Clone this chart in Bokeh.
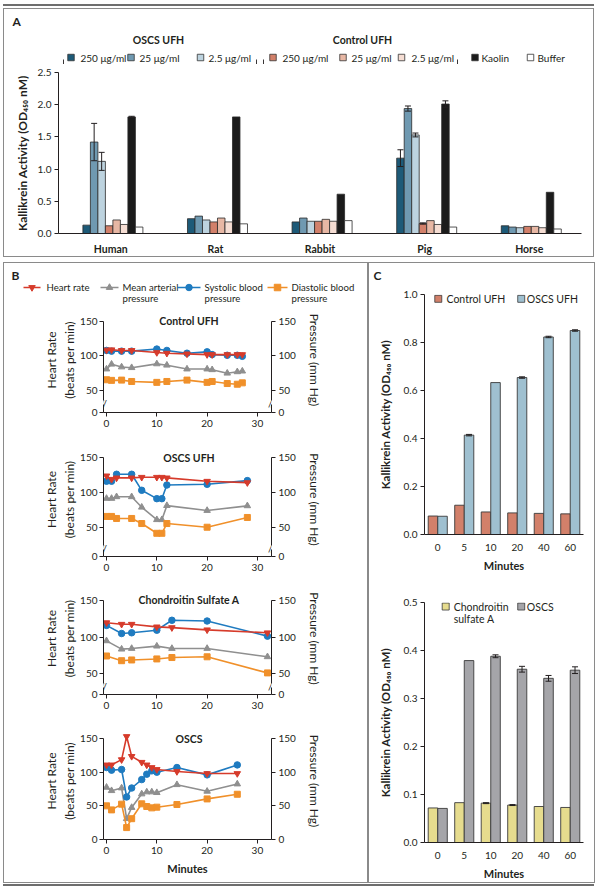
from bokeh.plotting import figure
from bokeh.layouts import column, row
from bokeh.models import (Range1d, FactorRange, FixedTicker, LinearAxis, Label, Whisker,
                          TeeHead, ColumnDataSource, Div, Spacer, NumeralTickFormatter)
from bokeh.transform import dodge
from bokeh.core.properties import value
from bokeh.embed import file_html
from bokeh.resources import INLINE

FONT = "Lato"
INK = "#231f20"
FRAME = "#8a8a8a"

# ---------------- Panel A data ----------------
species = ["Human", "Rat", "Rabbit", "Pig", "Horse"]
a_labels = ["250 μg/ml", "25 μg/ml", "2.5 μg/ml", "250 μg/ml", "25 μg/ml", "2.5 μg/ml", "Kaolin", "Buffer"]
oscs_250 = [0.13, 0.23, 0.18, 1.17, 0.12]
oscs_25 = [1.42, 0.27, 0.24, 1.94, 0.10]
oscs_2_5 = [1.12, 0.21, 0.19, 1.53, 0.09]
ctrl_250 = [0.12, 0.18, 0.19, 0.155, 0.11]
ctrl_25 = [0.21, 0.24, 0.22, 0.20, 0.11]
ctrl_2_5 = [0.14, 0.18, 0.19, 0.14, 0.09]
kaolin = [1.81, 1.81, 0.61, 2.01, 0.64]
buffer = [0.10, 0.15, 0.20, 0.10, 0.07]
oscs_250_err = [0.0, 0.0, 0.0, 0.13, 0.0]
oscs_25_err = [0.29, 0.0, 0.0, 0.04, 0.0]
oscs_2_5_err = [0.14, 0.0, 0.0, 0.03, 0.0]
ctrl_250_err = [0.0, 0.0, 0.0, 0.01, 0.0]
ctrl_25_err = [0.0, 0.0, 0.0, 0.0, 0.0]
ctrl_2_5_err = [0.0, 0.0, 0.0, 0.0, 0.0]
kaolin_err = [0.01, 0.0, 0.0, 0.05, 0.0]
buffer_err = [0.0, 0.0, 0.0, 0.0, 0.0]
a_values = [oscs_250, oscs_25, oscs_2_5, ctrl_250, ctrl_25, ctrl_2_5, kaolin, buffer]
a_errors = [oscs_250_err, oscs_25_err, oscs_2_5_err, ctrl_250_err, ctrl_25_err, ctrl_2_5_err, kaolin_err, buffer_err]
a_colors = ["#1d5a78", "#6f99b1", "#bdd3df", "#d2806a", "#e7b7a4", "#f5ddd3", "#1b1b1b", "#ffffff"]

# ---------------- Panel B data ----------------
ctrl_ufh_min = [0, 1, 3, 5, 10, 12, 16, 20, 21, 24, 26, 27]
ctrl_ufh_hr = [108.6, 109, 108, 108, 105, 104, 103, 102, 102, 102, 102, 102]
ctrl_ufh_map = [81, 88, 84, 83, 88.5, 86.6, 81, 81, 80, 75, 77, 78]
ctrl_ufh_sbp = [108, 107, 107, 107, 110, 108, 104, 106, 102, 101, 101, 99.5]
ctrl_ufh_dbp = [65.5, 64.6, 65, 63, 61.7, 63, 65, 61.7, 63, 60, 59, 61]

oscs_ufh_min = [0, 1, 2, 5, 7, 10, 11, 12, 20, 28]
oscs_ufh_hr = [123.7, 118.8, 120.8, 120.8, 121.7, 121.7, 121.7, 120.8, 116, 114]
oscs_ufh_map = [91.3, 91.3, 93.7, 93.7, 78.7, 60.8, 60.8, 81, 74, 80.7]
oscs_ufh_sbp = [116, 116, 126, 126, 103, 91, 91, 110.6, 111.6, 116.9]
oscs_ufh_dbp = [65.5, 65.5, 62.6, 62.6, 55.3, 41.3, 41.3, 55.3, 50, 64]

csa_min = [0, 3, 5, 10, 13, 20, 32]
csa_hr = [119.7, 117.6, 117.6, 114, 113, 110, 106]
csa_map = [95, 83.7, 84.6, 87.8, 84.6, 84.6, 73.3]
csa_sbp = [116, 105, 106, 109.5, 123, 122, 101.4]
csa_dbp = [74.4, 68, 69, 70.4, 72.3, 73.3, 51.4]

oscs_min = [0, 1, 3, 4, 5, 7, 8, 9, 10, 14, 20, 26]
oscs_hr = [110.8, 110.8, 118.6, 153, 123.5, 114.7, 110.8, 106.9, 104, 101, 98, 98]
oscs_map = [77.5, 72.5, 76.5, 30.9, 47.5, 67.6, 70.6, 70.6, 69.6, 81.4, 71.6, 82.4]
oscs_sbp = [106.9, 103, 104, 63.2, 76.5, 89, 97, 102, 100, 106.9, 96, 110.8]
oscs_dbp = [50, 44, 52.5, 17.7, 30.9, 53, 49, 47, 48, 52, 60.3, 67.2]

b_names = ["Heart rate", "Mean arterial\npressure", "Systolic blood\npressure", "Diastolic blood\npressure"]
b_colors = ["#d63b2b", "#8f8f8f", "#1f7bc0", "#f0902a"]
b_markers = ["inverted_triangle", "triangle", "circle", "square"]
b_ticks = [0, 10, 20, 30]

# ---------------- Panel C data ----------------
minutes_c = ["0", "5", "10", "20", "40", "60"]
c_ctrl_ufh = [0.077, 0.122, 0.094, 0.090, 0.088, 0.086]
c_ctrl_ufh_err = [0.0, 0.0, 0.0, 0.0, 0.0, 0.0]
c_oscs_ufh = [0.076, 0.414, 0.633, 0.654, 0.823, 0.850]
c_oscs_ufh_err = [0.0, 0.003, 0.0, 0.003, 0.003, 0.003]
c_chondroitin = [0.072, 0.083, 0.082, 0.078, 0.075, 0.073]
c_chondroitin_err = [0.0, 0.0, 0.001, 0.001, 0.0, 0.0]
c_oscs = [0.071, 0.379, 0.388, 0.361, 0.342, 0.359]
c_oscs_err = [0.0, 0.0, 0.003, 0.006, 0.006, 0.007]


def base_fig(w, h, xr, yr, l, r, t, b, axes=True):
    kw = {}
    if not axes:
        kw = dict(x_axis_type=None, y_axis_type=None)
    p = figure(width=w, height=h, x_range=xr, y_range=yr, output_backend="svg",
               toolbar_location=None, min_border_left=l, min_border_right=r,
               min_border_top=t, min_border_bottom=b, **kw)
    p.outline_line_color = None
    p.border_fill_color = None
    p.background_fill_color = None
    p.grid.visible = False
    if not axes:
        p.frame_align = False
    return p


def style_axis(ax, bold_label=False, size="10.5px"):
    ax.axis_line_color = INK
    ax.axis_line_width = 1
    ax.major_tick_line_color = INK
    ax.major_tick_in = 0
    ax.major_tick_out = 4
    ax.minor_tick_line_color = None
    ax.major_label_text_font = FONT
    ax.major_label_text_font_size = "10px"
    ax.major_label_text_color = INK
    ax.major_label_standoff = 3
    ax.axis_label_text_font = FONT
    ax.axis_label_text_font_size = size
    ax.axis_label_text_font_style = "bold" if bold_label else "normal"
    ax.axis_label_text_color = INK


def add_whiskers(p, xs, vals, errs, off, rng):
    keep = [i for i, e in enumerate(errs) if e > 0]
    if not keep:
        return
    src = ColumnDataSource(dict(x=[xs[i] for i in keep],
                                upper=[vals[i] + errs[i] for i in keep],
                                lower=[vals[i] - errs[i] for i in keep]))
    w = Whisker(source=src, base=dodge("x", off, range=rng), upper="upper", lower="lower",
                line_color=INK, line_width=1,
                upper_head=TeeHead(size=6, line_color=INK, line_width=1),
                lower_head=TeeHead(size=6, line_color=INK, line_width=1))
    w.level = "overlay"
    p.add_layout(w)


# ======================= Panel A =======================
headA = base_fig(591, 56, Range1d(3, 594), Range1d(64, 8), 0, 0, 0, 0, axes=False)
headA.text(x=[12], y=[21], text=["A"], text_font=value(FONT), text_font_style="bold",
           text_font_size="12px", text_baseline="middle", text_color=INK)
headA.text(x=[158, 362], y=[39, 39], text=["OSCS UFH", "Control UFH"], text_font=value(FONT),
           text_font_style="bold", text_font_size="10.5px", text_align="center",
           text_baseline="middle", text_color=INK)
sw_x = [70.5, 130.5, 200, 272.5, 342.5, 401, 474.5, 530]
tx_x = [80, 139, 208, 282, 351, 411, 481, 537]
headA.rect(x=sw_x, y=[57] * 8, width=6.5, height=6.5, fill_color=a_colors, line_color="#333333",
           line_width=0.8)
headA.text(x=tx_x, y=[57] * 8, text=a_labels, text_font=value(FONT), text_font_size="10px",
           text_baseline="middle", text_color=INK)
headA.multi_line(xs=[[63, 63, 256, 256], [263, 263, 457, 457]],
                 ys=[[59, 64, 64, 59], [59, 64, 64, 59]], line_color=INK, line_width=0.9)

pA = base_fig(591, 193, FactorRange(factors=species, range_padding=0), Range1d(0, 2.5), 55, 13, 8, 20)
bw = 0.0717
for j, (vals, errs, col) in enumerate(zip(a_values, a_errors, a_colors)):
    off = (j - 3.5) * bw + 0.02
    src = ColumnDataSource(dict(x=species, top=vals))
    pA.vbar(x=dodge("x", off, range=pA.x_range), top="top", width=bw, source=src,
            fill_color=col, line_color="#2a2a2a", line_width=0.8)
    add_whiskers(pA, species, vals, errs, off, pA.x_range)
style_axis(pA.yaxis[0], bold_label=True, size="12px")
style_axis(pA.xaxis[0])
pA.yaxis.ticker = FixedTicker(ticks=[0, 0.5, 1.0, 1.5, 2.0, 2.5])
pA.yaxis.formatter = NumeralTickFormatter(format="0.0")
pA.yaxis.axis_label = "Kallikrein Activity (OD₄₅₀ nM)"
pA.yaxis.axis_label_standoff = 5
pA.xaxis.major_tick_line_color = None
pA.xaxis.major_label_text_font_style = "bold"
pA.xaxis.major_label_text_font_size = "10.5px"
pA.xaxis.major_label_standoff = 5

panelA = column(headA, pA, styles={"outline": f"1px solid {FRAME}", "outline-offset": "-1px"})

# ======================= Panel B =======================
headB = base_fig(365, 43, Range1d(3, 368), Range1d(305, 262), 0, 0, 0, 0, axes=False)
headB.text(x=[11], y=[275], text=["B"], text_font=value(FONT), text_font_style="bold",
           text_font_size="12px", text_baseline="middle", text_color=INK)
lx0 = [23, 100, 177, 267]
lx1 = [40, 118, 200, 287]
ltx = [46, 122, 204, 291]
for k in range(4):
    headB.line(x=[lx0[k], lx1[k]], y=[287, 287], line_color=b_colors[k], line_width=1.6)
    headB.scatter(x=[(lx0[k] + lx1[k]) / 2], y=[287], marker=b_markers[k], size=6.5,
                  fill_color=b_colors[k], line_color=b_colors[k])
    lines = b_names[k].split("\n")
    headB.text(x=[ltx[k]] * len(lines), y=[287, 298][:len(lines)], text=lines,
               text_font=value(FONT), text_font_size="9.6px", text_baseline="middle",
               text_color=INK)


def bplot(title, mins, hr, mp, sbp, dbp, y0, y1, gap, height, bottom, xlabel=None):
    p = base_fig(365, height, Range1d(-0.6, 32.8), Range1d(y0, y1), 100, 97, 2, bottom)
    p.extra_y_ranges = {"pres": Range1d(y0, y1)}
    low = 0 if gap is None else y0
    ticks = [low, 50, 100, 150]
    right = LinearAxis(y_range_name="pres")
    p.add_layout(right, "right")
    for ax in (p.yaxis[0], right):
        style_axis(ax, size="12px")
        ax.ticker = FixedTicker(ticks=ticks)
        ax.major_label_overrides = {low: "0"}
        ax.bounds = (y0, 150)
        if gap is not None:
            ax.axis_line_dash = f"{gap} 4 1000"
    p.yaxis[0].axis_label = "Heart Rate\n(beats per min)"
    p.yaxis[0].axis_label_standoff = 0
    p.yaxis[0].major_label_standoff = 2
    right.axis_label = "Pressure (mm Hg)"
    right.axis_label_standoff = 8
    style_axis(p.xaxis[0], bold_label=True, size="11px")
    p.xaxis.ticker = FixedTicker(ticks=b_ticks)
    if xlabel:
        p.xaxis.axis_label = xlabel
    series = [(mp, 1), (dbp, 3), (sbp, 2), (hr, 0)]
    for ys, k in series:
        rng = "default" if k == 0 else "pres"
        p.line(x=mins, y=ys, line_color=b_colors[k], line_width=1.6, y_range_name=rng)
        p.scatter(x=mins, y=ys, marker=b_markers[k], size=6.5 if k != 3 else 6,
                  fill_color=b_colors[k], line_color=b_colors[k], y_range_name=rng)
    p.add_layout(Label(x=16.4, y=150, text=title, text_align="center",
                       text_baseline="alphabetic", text_font=FONT, text_font_style="bold",
                       text_font_size="10.5px", text_color=INK))
    if gap is not None:
        sc = (height - 2 - bottom) / (y1 - y0)
        yb = y0 + (gap + 2) / sc
        for bx in (-0.6, 32.8):
            p.add_layout(Label(x=bx, y=yb, text="//", text_align="center",
                               text_baseline="middle", text_font=FONT, text_font_size="10px",
                               text_color=INK))
    return p


s1 = bplot("Control UFH", ctrl_ufh_min, ctrl_ufh_hr, ctrl_ufh_map, ctrl_ufh_sbp, ctrl_ufh_dbp,
           18, 170.3, 8, 135, 28)
s2 = bplot("OSCS UFH", oscs_ufh_min, oscs_ufh_hr, oscs_ufh_map, oscs_ufh_sbp, oscs_ufh_dbp,
           8, 171.6, 7, 140, 24)
s3 = bplot("Chondroitin Sulfate A", csa_min, csa_hr, csa_map, csa_sbp, csa_dbp,
           22, 174.4, 7, 140, 26)
s4 = bplot("OSCS", oscs_min, oscs_hr, oscs_map, oscs_sbp, oscs_dbp,
           0, 173.8, None, 163, 44, xlabel="Minutes")

panelB = column(headB, s1, s2, s3, s4, styles={"outline": f"1px solid {FRAME}", "outline-offset": "-1px"})


# ======================= Panel C =======================
def cplot(height, top, bottom, yend, ticks, lvals, lerr, lcol, rvals, rerr, rcol):
    p = base_fig(227, height, FactorRange(factors=minutes_c, range_padding=0), Range1d(0, yend),
                 56, 12, top, bottom)
    for vals, errs, col, off in ((lvals, lerr, lcol, -0.18), (rvals, rerr, rcol, 0.18)):
        src = ColumnDataSource(dict(x=minutes_c, top=vals))
        p.vbar(x=dodge("x", off, range=p.x_range), top="top", width=0.36, source=src,
               fill_color=col, line_color="#3a3a3a", line_width=0.9)
        add_whiskers(p, minutes_c, vals, errs, off, p.x_range)
    style_axis(p.yaxis[0], bold_label=True, size="11.5px")
    style_axis(p.xaxis[0], bold_label=True, size="11px")
    p.yaxis.ticker = FixedTicker(ticks=ticks)
    p.yaxis.formatter = NumeralTickFormatter(format="0.0")
    p.yaxis.axis_label = "Kallikrein Activity (OD₄₅₀ nM)"
    p.yaxis.axis_label_standoff = 9
    p.xaxis.major_tick_line_color = None
    p.xaxis.major_label_standoff = 5
    p.xaxis.axis_label = "Minutes"
    return p


headC = base_fig(227, 24, Range1d(367, 594), Range1d(286, 262), 0, 0, 0, 0, axes=False)
headC.text(x=[372], y=[275], text=["C"], text_font=value(FONT), text_font_style="bold",
           text_font_size="12px", text_baseline="middle", text_color=INK)

c1 = cplot(296, 8, 48, 1.0, [0, 0.2, 0.4, 0.6, 0.8, 1.0], c_ctrl_ufh, c_ctrl_ufh_err, "#d2806a",
           c_oscs_ufh, c_oscs_ufh_err, "#9fc0d0")
c1.rect(x=[0.52, 3.65], y=[0.982, 0.982], width=7, height=7, width_units="screen",
        height_units="screen", fill_color=["#d2806a", "#9fc0d0"], line_color="#3a3a3a", line_width=0.8)
c1.text(x=[0.83, 3.86], y=[0.982, 0.982], text=["Control UFH", "OSCS UFH"], text_font=value(FONT),
        text_font_size="10.5px", text_baseline="middle", text_color=INK)

c2 = cplot(301, 20, 41, 0.5, [0, 0.1, 0.2, 0.3, 0.4, 0.5], c_chondroitin, c_chondroitin_err,
           "#e6dc8e", c_oscs, c_oscs_err, "#a5a5a9")
c2.rect(x=[0.8, 3.65], y=[0.4916, 0.4916], width=7, height=7, width_units="screen",
        height_units="screen", fill_color=["#e6dc8e", "#a5a5a9"], line_color="#3a3a3a", line_width=0.8)
c2.text(x=[1.1, 1.1, 3.86], y=[0.4916, 0.4665, 0.4916], text=["Chondroitin", "sulfate A", "OSCS"],
        text_font=value(FONT), text_font_size="10.5px", text_baseline="middle", text_color=INK)

panelC = column(headC, c1, c2, styles={"outline": f"1px solid {FRAME}", "outline-offset": "-1px"})

rule_top = Div(text="", width=591, height=2, margin=0, styles={"background-color": "#6e6e6e"})
rule_bot = Div(text="", width=591, height=2, margin=0, styles={"background-color": "#6e6e6e"})

main = column(Spacer(width=591, height=4), rule_top, Spacer(width=591, height=2), panelA,
              Spacer(width=591, height=5), row(panelB, panelC), Spacer(width=591, height=1), rule_bot)
layout = row(Spacer(width=3, height=10), main)

open("out.html", "w").write(file_html(layout, INLINE))
